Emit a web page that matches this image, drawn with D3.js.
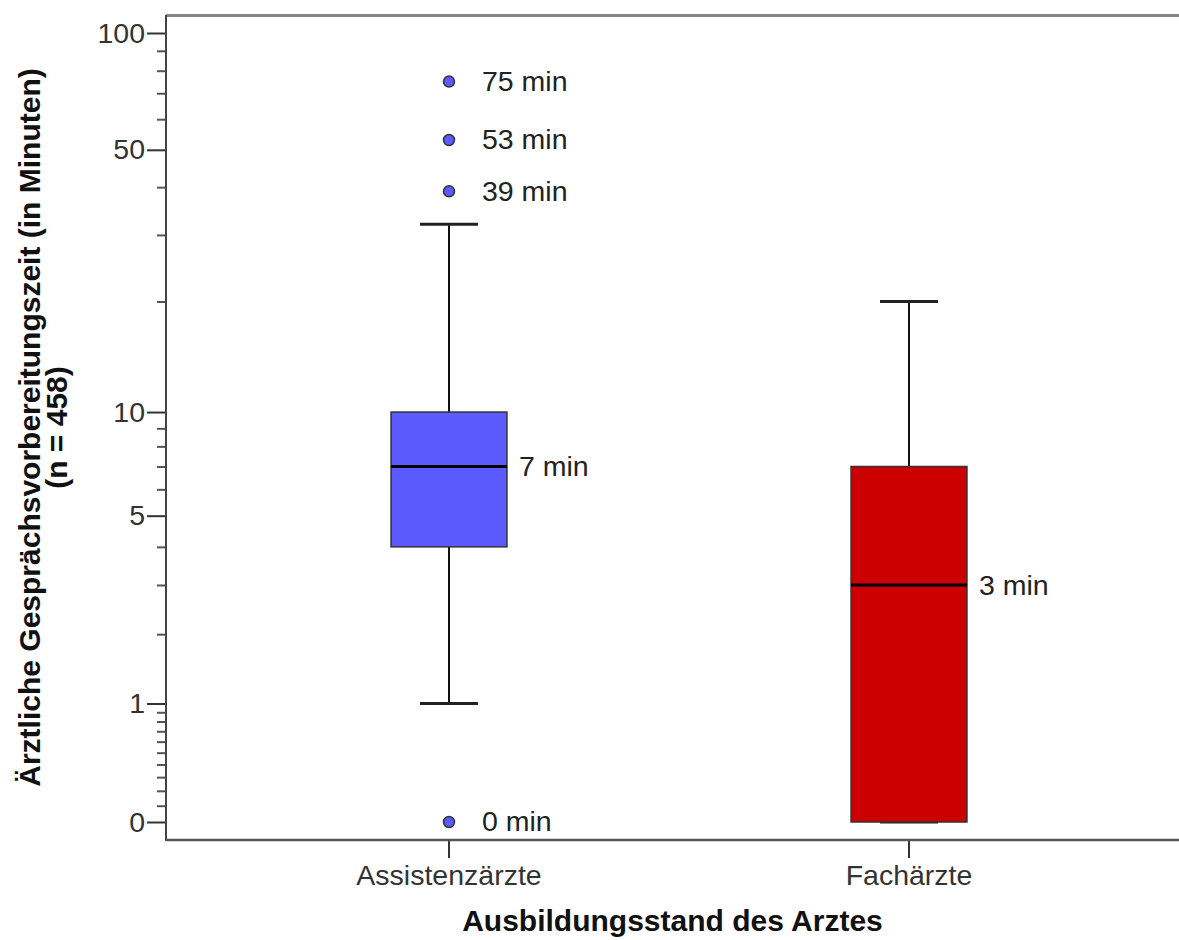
<!doctype html>
<html>
<head>
<meta charset="UTF-8">
<script src="https://cdn.jsdelivr.net/npm/d3@7"></script>
<style>
  body { margin: 0; background: #fff; }
  text { font-family: "Liberation Sans", Arial, sans-serif; }
</style>
</head>
<body>
<svg id="chart"></svg>
<script>
// box plot data (minutes)
var categories = ["Assistenzärzte", "Fachärzte"];
var boxColors = ["#5a5aff", "#cc0000"];
var whiskerLow = [1, 0];
var q1 = [4, 0];
var medians = [7, 3];
var q3 = [10, 7];
var whiskerHigh = [32, 20];
var medianLabels = ["7 min", "3 min"];

var outlierCat = ["Assistenzärzte", "Assistenzärzte", "Assistenzärzte", "Assistenzärzte"];
var outlierVal = [75, 53, 39, 0];
var outlierLabels = ["75 min", "53 min", "39 min", "0 min"];

var majorTicks = [0, 1, 5, 10, 50, 100];
var minorTicks = [0.1, 0.2, 0.3, 0.4, 0.5, 0.6, 0.7, 0.8, 0.9, 2, 3, 4, 6, 7, 8, 9, 20, 30, 40, 60, 70, 80, 90];

var width = 1179, height = 940;
var plotLeft = 166, plotRight = 1179, plotTop = 15, plotBottom = 840;
var fs = 28.5;

var svg = d3.select("#chart").attr("width", width).attr("height", height);

// log(x+1) style axis
var y = d3.scaleSymlog().constant(1).domain([0, 100]).range([822, 33]);
var x = d3.scaleBand().domain(categories).range([219, 1139]).padding(0);
var boxW = x.bandwidth() * 0.252;
var capW = boxW / 2;

// frame
svg.append("line").attr("x1", plotLeft).attr("x2", plotRight).attr("y1", plotTop + 0.5).attr("y2", plotTop + 0.5)
  .attr("stroke", "#858585").attr("stroke-width", 3);

// minor ticks
var minorAxis = svg.append("g").attr("transform", "translate(" + plotLeft + ",0)")
  .call(d3.axisLeft(y).tickValues(minorTicks).tickSize(9).tickSizeOuter(0).tickFormat(""));
minorAxis.select(".domain").remove();
minorAxis.selectAll(".tick line").attr("stroke", "#555").attr("stroke-width", 2);

// major ticks
var yAxis = svg.append("g").attr("transform", "translate(" + plotLeft + ",0)")
  .call(d3.axisLeft(y).tickValues(majorTicks).tickSize(19).tickSizeOuter(0).tickPadding(2).tickFormat(d3.format("d")));
yAxis.select(".domain").remove();
yAxis.selectAll(".tick line").attr("stroke", "#333").attr("stroke-width", 2);
yAxis.selectAll(".tick text").attr("font-size", fs).attr("fill", "#333")
  .attr("font-family", "Liberation Sans, Arial, sans-serif");

svg.append("line").attr("x1", plotLeft).attr("x2", plotLeft).attr("y1", plotTop).attr("y2", plotBottom + 1)
  .attr("stroke", "#444").attr("stroke-width", 2);

// x axis
var xAxis = svg.append("g").attr("transform", "translate(0," + plotBottom + ")")
  .call(d3.axisBottom(x).tickSize(18).tickSizeOuter(0).tickPadding(7));
xAxis.select(".domain").remove();
xAxis.selectAll(".tick line").attr("stroke", "#333").attr("stroke-width", 2);
xAxis.selectAll(".tick text").attr("font-size", fs).attr("fill", "#333")
  .attr("font-family", "Liberation Sans, Arial, sans-serif");

svg.append("line").attr("x1", plotLeft).attr("x2", plotRight).attr("y1", plotBottom).attr("y2", plotBottom)
  .attr("stroke", "#555").attr("stroke-width", 2.5);

// boxes
var boxes = svg.selectAll(".box").data(categories).enter().append("g").attr("class", "box");
var cx = function(d) { return x(d) + x.bandwidth() / 2; };

// whisker stems
boxes.append("line")
  .attr("x1", cx).attr("x2", cx)
  .attr("y1", function(d, i) { return y(whiskerHigh[i]); })
  .attr("y2", function(d, i) { return y(q3[i]); })
  .attr("stroke", "#111").attr("stroke-width", 2);
boxes.append("line")
  .attr("x1", cx).attr("x2", cx)
  .attr("y1", function(d, i) { return y(q1[i]); })
  .attr("y2", function(d, i) { return y(whiskerLow[i]); })
  .attr("stroke", "#111").attr("stroke-width", 2);
// caps
[whiskerHigh, whiskerLow].forEach(function(arr) {
  boxes.append("line")
    .attr("x1", function(d) { return cx(d) - capW / 2; })
    .attr("x2", function(d) { return cx(d) + capW / 2; })
    .attr("y1", function(d, i) { return y(arr[i]); })
    .attr("y2", function(d, i) { return y(arr[i]); })
    .attr("stroke", "#222").attr("stroke-width", 3);
});

boxes.append("rect")
  .attr("x", function(d) { return cx(d) - boxW / 2; })
  .attr("width", boxW)
  .attr("y", function(d, i) { return y(q3[i]); })
  .attr("height", function(d, i) { return y(q1[i]) - y(q3[i]); })
  .attr("fill", function(d, i) { return boxColors[i]; })
  .attr("stroke", "#333").attr("stroke-width", 1.5);

boxes.append("line")
  .attr("x1", function(d) { return cx(d) - boxW / 2; })
  .attr("x2", function(d) { return cx(d) + boxW / 2; })
  .attr("y1", function(d, i) { return y(medians[i]); })
  .attr("y2", function(d, i) { return y(medians[i]); })
  .attr("stroke", "#000").attr("stroke-width", 3);

boxes.append("text")
  .attr("x", function(d) { return cx(d) + boxW / 2 + 12; })
  .attr("y", function(d, i) { return y(medians[i]); })
  .attr("dy", "0.35em")
  .attr("font-size", fs).attr("fill", "#222")
  .text(function(d, i) { return medianLabels[i]; });

// outliers
var outs = svg.selectAll(".out").data(outlierVal).enter().append("g").attr("class", "out");
outs.append("circle")
  .attr("cx", function(d, i) { return cx(outlierCat[i]); })
  .attr("cy", function(d) { return y(d); })
  .attr("r", 5.5)
  .attr("fill", boxColors[0]).attr("stroke", "#333").attr("stroke-width", 1.5);
outs.append("text")
  .attr("x", function(d, i) { return cx(outlierCat[i]) + 33; })
  .attr("y", function(d) { return y(d); })
  .attr("dy", "0.33em")
  .attr("font-size", fs).attr("fill", "#222")
  .text(function(d, i) { return outlierLabels[i]; });

// axis titles
svg.append("text")
  .attr("x", (plotLeft + plotRight) / 2).attr("y", 931)
  .attr("text-anchor", "middle").attr("font-size", 30).attr("font-weight", "bold")
  .attr("fill", "#111")
  .text("Ausbildungsstand des Arztes");

var yt = svg.append("text")
  .attr("transform", "translate(40," + ((plotTop + plotBottom) / 2) + ") rotate(-90)")
  .attr("text-anchor", "middle").attr("font-size", 30).attr("font-weight", "bold")
  .attr("fill", "#111");
yt.append("tspan").attr("x", 0).attr("dy", 0).text("Ärztliche Gesprächsvorbereitungszeit (in Minuten)");
yt.append("tspan").attr("x", 0).attr("dy", 27).text("(n = 458)");
</script>
</body>
</html>
